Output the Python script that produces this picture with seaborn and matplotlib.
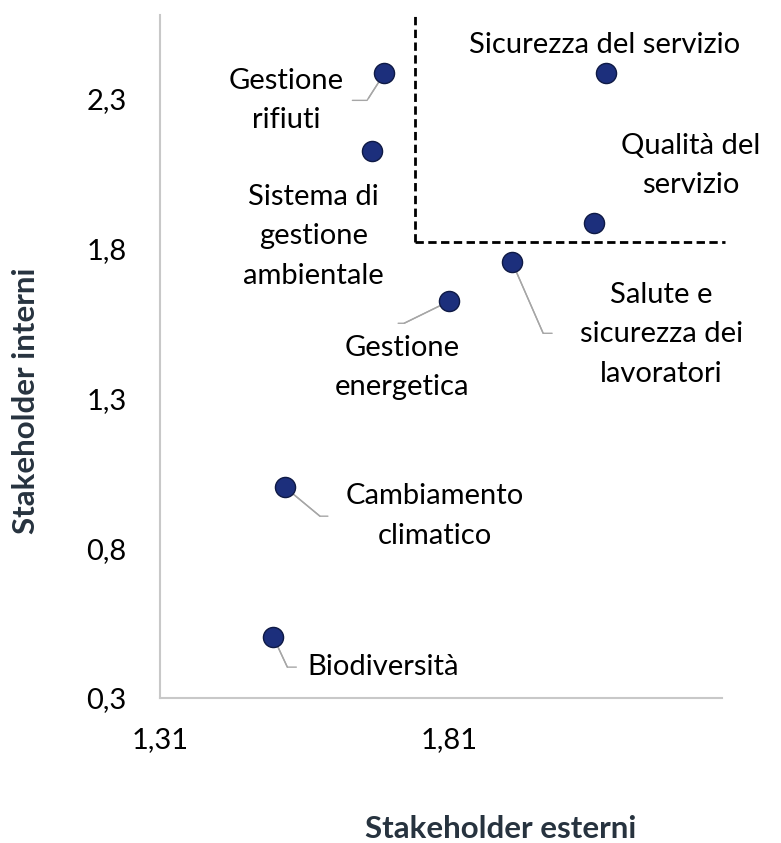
import numpy as np
import matplotlib
matplotlib.use("Agg")
from matplotlib import pyplot as plt
import seaborn as sns
import pandas as pd

# data
topics = ["Sicurezza del servizio", "Qualità del\nservizio", "Gestione\nrifiuti",
          "Sistema di\ngestione\nambientale", "Salute e\nsicurezza dei\nlavoratori",
          "Gestione\nenergetica", "Cambiamento\nclimatico", "Biodiversità"]
esterni = [2.082, 2.061, 1.698, 1.677, 1.919, 1.810, 1.526, 1.506]
interni = [2.383, 1.883, 2.383, 2.123, 1.753, 1.623, 1.003, 0.503]
x_ticks = [1.31, 1.81]
y_ticks = [0.3, 0.8, 1.3, 1.8, 2.3]
thresh_x = 1.751
thresh_y = 1.82

# label offsets (pixels) and leader elbows (None = no leader)
label_off = [(-2, 28), (96, 58), (-98, -27), (-59, -85), (149, -72),
             (-47, -66), (150, -29), (110, -30)]
leader = [None, None, ((-16, -25), (-32, -27)), None, ((31, -71), (40, -71)),
          ((-45, -22), (-51, -22)), ((35, -29), (43, -29)), ((14, -30), (23, -30))]

df = pd.DataFrame({"esterni": esterni, "interni": interni, "tema": topics})

sns.set_style("white")
plt.rcParams["font.family"] = ["Lato", "DejaVu Sans"]

fig = plt.figure(figsize=(7.81, 8.43), dpi=100)
ax = fig.add_axes([0.2049, 0.172, 0.7196, 0.81])

sns.scatterplot(data=df, x="esterni", y="interni", s=210, color="#1c2f7c",
                edgecolor="#0f1a45", linewidth=1, zorder=3, ax=ax)

xmax, ymax = 2.282, 2.577
ax.set_xlim(1.31, xmax)
ax.set_ylim(0.3, ymax)

# quadrant
ax.plot([thresh_x, thresh_x], [thresh_y, ymax + 0.01], ls=(0, (3, 1.6)), color="black",
        lw=2, clip_on=False, zorder=2)
ax.plot([thresh_x, xmax + 0.005], [thresh_y, thresh_y], ls=(0, (3, 1.6)), color="black",
        lw=2, clip_on=False, zorder=2)

for i, row in df.iterrows():
    ax.annotate(row["tema"], (row["esterni"], row["interni"]), xytext=label_off[i],
                textcoords="offset pixels", ha="center", va="center",
                fontsize=21, color="black", linespacing=1.64, zorder=4)
    if leader[i] is not None:
        (ex, ey), (hx, hy) = leader[i]
        ax.annotate("", (row["esterni"], row["interni"]), xytext=(ex, ey),
                    textcoords="offset pixels",
                    arrowprops=dict(arrowstyle="-", color="#a6a6a6", lw=1,
                                    shrinkA=0, shrinkB=0), zorder=1)
        ax.annotate("", (row["esterni"], row["interni"]), xytext=(hx, hy),
                    textcoords="offset pixels",
                    arrowprops=dict(arrowstyle="-", color="#a6a6a6", lw=1,
                                    shrinkA=0, shrinkB=0,
                                    connectionstyle="angle,angleA=0,angleB=%.1f,rad=0"
                                    % np.degrees(np.arctan2(ey, ex))), zorder=1)

ax.set_xticks(x_ticks)
ax.set_xticklabels([f"{v:.2f}".replace(".", ",") for v in x_ticks])
ax.set_yticks(y_ticks)
ax.set_yticklabels([f"{v:.1f}".replace(".", ",") for v in y_ticks])
ax.tick_params(axis="both", direction="out", length=10, width=1.5, color="#c8c8c8",
               labelsize=21, labelcolor="black")
ax.tick_params(axis="x", pad=11)
ax.tick_params(axis="y", pad=14)

sns.despine(ax=ax)
for s in ["left", "bottom"]:
    ax.spines[s].set_color("#c8c8c8")
    ax.spines[s].set_linewidth(1.5)

ax.set_xlabel("Stakeholder esterni", fontsize=22.5, fontweight="bold", color="#27333f")
ax.set_ylabel("Stakeholder interni", fontsize=22.5, fontweight="bold", color="#27333f")
ax.xaxis.set_label_coords(0.607, -0.171)
ax.yaxis.set_label_coords(-0.213, 0.435)

plt.savefig("out.png", dpi=100)
